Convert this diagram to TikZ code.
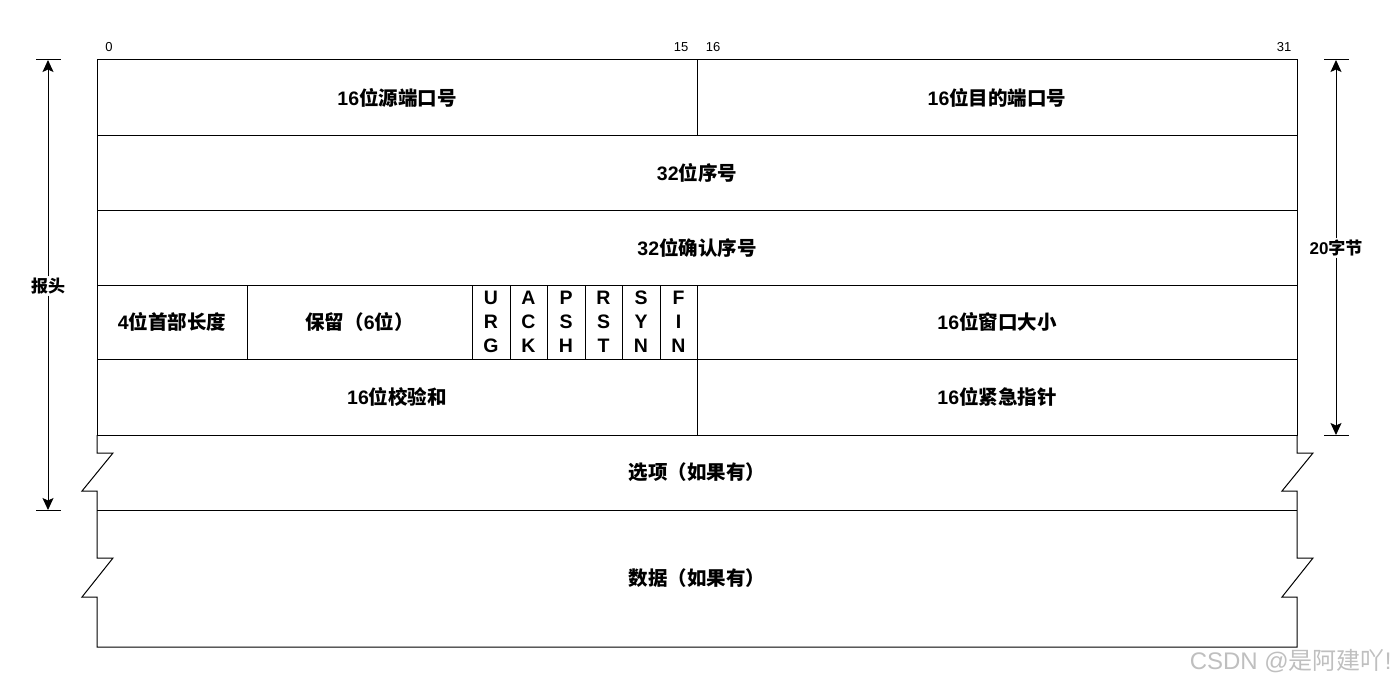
\documentclass[tikz,border=0pt]{standalone}
\usepackage{fontspec}
\setmainfont{Liberation Sans}
\newfontfamily\cjk{Noto Sans CJK SC}
\usetikzlibrary{arrows.meta}
\begin{document}
\begin{tikzpicture}[x=1pt,y=-1pt,line width=1pt,
  lbl/.style={font=\fontsize{19.5}{24}\selectfont\bfseries,inner sep=0pt,align=center},
  num/.style={font=\fontsize{13}{15}\selectfont,inner sep=0pt},
  tick/.style={line width=1pt},
  dimarrow/.style={-{Stealth[length=12pt,width=11pt,inset=2.5pt]},line width=1pt},
  side/.style={font=\fontsize{17}{20}\selectfont\bfseries,fill=white,inner sep=1pt}]
\useasboundingbox (0,0) rectangle (1395,685);
% header grid
\draw (97,60) rectangle (1297,435);
\foreach \y in {135,210,285,359} \draw (97,\y) -- (1297,\y);
\draw (697,60) -- (697,135);
\draw (697,359) -- (697,435);
\foreach \x in {247,472,510,547,585,622,660,697} \draw (\x,285) -- (\x,359);
% options and data with break marks
\draw (97,435) -- (97,453) -- (113,453) -- (82,491) -- (97,491) -- (97,558) -- (113,558) -- (82,597) -- (97,597) -- (97,647)
  -- (1297,647) -- (1297,597) -- (1282,597) -- (1313,558) -- (1297,558) -- (1297,491) -- (1282,491) -- (1313,453) -- (1297,453) -- (1297,435);
\draw (97,510) -- (1297,510);
% bit numbers
\node[num] (b0) at (109,47) {0};
\node[num] (b15) at (681,47) {15};
\node[num] (b16) at (713,47) {16};
\node[num] (b31) at (1284,47) {31};
% labels
\node[lbl] (sport) at (397,97.5) {16{\cjk 位源端口号}};
\node[lbl] (dport) at (997,97.5) {16{\cjk 位目的端口号}};
\node[lbl] (seq) at (697,172.5) {32{\cjk 位序号}};
\node[lbl] (ack) at (697,247.5) {32{\cjk 位确认序号}};
\node[lbl] (hlen) at (172,322) {4{\cjk 位首部长度}};
\node[lbl] (resv) at (359.5,322) {{\cjk 保留（}6{\cjk 位）}};
\node[lbl] (furg) at (491,322) {U\\R\\G};
\node[lbl] (fack) at (528.5,322) {A\\C\\K};
\node[lbl] (fpsh) at (566,322) {P\\S\\H};
\node[lbl] (frst) at (603.5,322) {R\\S\\T};
\node[lbl] (fsyn) at (641,322) {S\\Y\\N};
\node[lbl] (ffin) at (678.5,322) {F\\I\\N};
\node[lbl] (win) at (997,322) {16{\cjk 位窗口大小}};
\node[lbl] (csum) at (397,397) {16{\cjk 位校验和}};
\node[lbl] (urgp) at (997,397) {16{\cjk 位紧急指针}};
\node[lbl] (opt) at (697,472.5) {{\cjk 选项（如果有）}};
\node[lbl] (data) at (697,578.5) {{\cjk 数据（如果有）}};
% left dimension
\coordinate (lt) at (48,60);
\coordinate (lb) at (48,510);
\draw[tick] (36,60) -- (61,60);
\draw[tick] (36,510) -- (61,510);
\node[side] (bt) at (48,286) {\cjk 报头};
\draw[dimarrow] (bt) -- (lt);
\draw[dimarrow] (bt) -- (lb);
% right dimension
\coordinate (rt) at (1336,60);
\coordinate (rb) at (1336,435);
\draw[tick] (1324,60) -- (1349,60);
\draw[tick] (1324,435) -- (1349,435);
\node[side] (bytes) at (1336,248) {20{\cjk 字节}};
\draw[dimarrow] (bytes) -- (rt);
\draw[dimarrow] (bytes) -- (rb);
% watermark
\node[anchor=east,text=black!25,font=\fontsize{24}{28}\selectfont,inner sep=0pt] (wm) at (1392,661) {CSDN @{\cjk 是阿建吖}!};
\end{tikzpicture}
\end{document}
